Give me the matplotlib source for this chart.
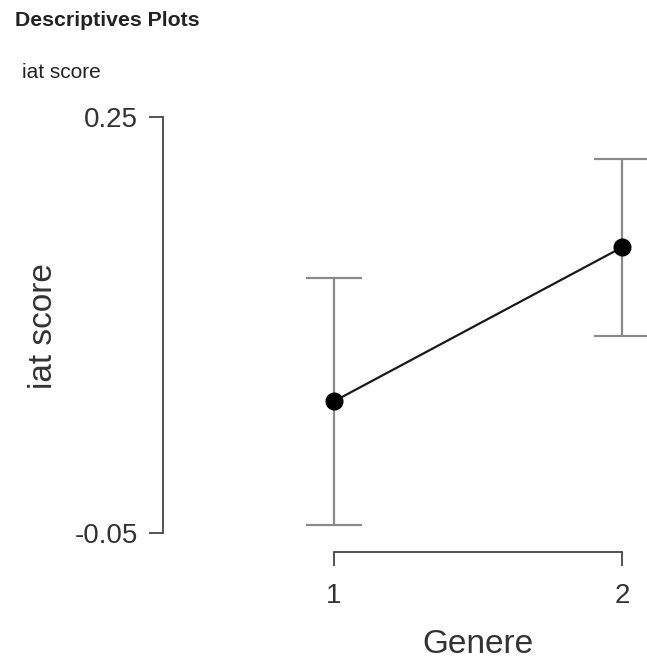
import numpy as np
import matplotlib as mpl
import matplotlib.pyplot as plt

mpl.rcParams["font.family"] = ["Liberation Sans", "DejaVu Sans"]

# Descriptives: mean and half-width of the interval per group
groups = [1, 2]
group_labels = ["1", "2"]
means = [0.045, 0.156]
half_ci = [0.089, 0.064]
y_ticks = [-0.05, 0.25]
y_tick_labels = ["-0.05", "0.25"]

W, H = 647, 669
fig = plt.figure(figsize=(W / 100, H / 100), dpi=100)

# axes placed in pixel terms so the frame lines up with the reference
left, right, bottom, top = 163, 647, 552, 100
ax = fig.add_axes([left / W, 1 - bottom / H, (right - left) / W, (bottom - top) / H])

ax.errorbar(groups, means, yerr=half_ci, fmt="none", ecolor="#8a8a8a",
            elinewidth=1.6, capsize=20, capthick=1.6, zorder=2)
ax.plot(groups, means, color="#1a1a1a", lw=1.6, zorder=3)
ax.plot(groups, means, "o", color="black", ms=12, zorder=4)

# y scale: -0.05 at 533 px, 0.25 at 117 px
per_px = 0.30 / (533 - 117)
ax.set_ylim(-0.05 - (bottom - 533) * per_px, 0.25 + (117 - top) * per_px)
per_px_x = 1.0 / (622 - 334)
x0, x1 = 1 - (334 - left) * per_px_x, 2 + (right - 622) * per_px_x
ax.set_xlim(x0, x1)

for s in ("top", "right"):
    ax.spines[s].set_visible(False)
ax.spines["left"].set_bounds(-0.05, 0.25)
ax.spines["bottom"].set_bounds(1, 2)
for s in ("left", "bottom"):
    ax.spines[s].set_color("#444444")
    ax.spines[s].set_linewidth(1.3)

ax.set_yticks(y_ticks)
ax.set_yticklabels(y_tick_labels)
ax.set_xticks(groups)
ax.set_xticklabels(group_labels)
ax.tick_params(axis="both", colors="#444444", labelcolor="#333333",
               labelsize=20, length=10, width=1.3)
ax.tick_params(axis="y", pad=8)
ax.tick_params(axis="x", pad=12)

ax.set_xlabel("Genere", fontsize=24, color="#333333", labelpad=15)
ax.set_ylabel("iat score", fontsize=24, color="#333333", labelpad=11)
# centre the x label under the bracket, not the whole axes
ax.xaxis.label.set_x((1.5 - x0) / (x1 - x0))
ax.patch.set_alpha(0)

fig.text(15 / W, 1 - 21 / H, "Descriptives Plots", fontsize=15.3, fontweight="bold",
         color="#222222", va="center", ha="left")
fig.text(22 / W, 1 - 73 / H, "iat score", fontsize=15, color="#222222",
         va="center", ha="left")

fig.savefig("out.png", dpi=100, facecolor="white")
